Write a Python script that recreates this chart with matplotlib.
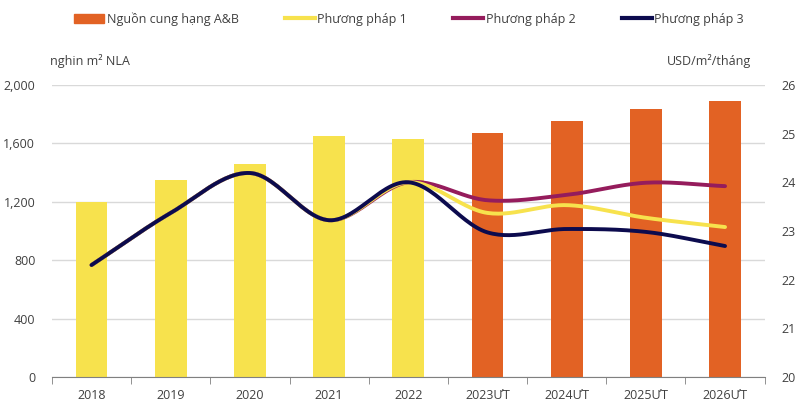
import numpy as np
import matplotlib.pyplot as plt
from matplotlib.ticker import FuncFormatter
from matplotlib.lines import Line2D
from matplotlib.patches import Patch

plt.rcParams['font.family'] = ['Open Sans', 'DejaVu Sans']

years = ['2018', '2019', '2020', '2021', '2022', '2023ƯT', '2024ƯT', '2025ƯT', '2026ƯT']
supply = [1200, 1350, 1460, 1650, 1630, 1670, 1750, 1835, 1890]
method1 = [22.30, 23.37, 24.19, 23.22, 24.00, 23.37, 23.53, 23.27, 23.08]
method2 = [22.30, 23.37, 24.19, 23.22, 24.00, 23.63, 23.74, 23.99, 23.92]
method3 = [22.30, 23.37, 24.19, 23.22, 24.00, 22.97, 23.04, 22.98, 22.69]

ORANGE = '#E26224'
YELLOW = '#F7E24D'
PURPLE = '#951C5C'
NAVY = '#0C0B4E'


def smooth(x, y, n=30):
    # Catmull-Rom style curve through the points (like Excel smoothed lines)
    x = np.asarray(x, float)
    y = np.asarray(y, float)
    px = np.concatenate([[2 * x[0] - x[1]], x, [2 * x[-1] - x[-2]]])
    py = np.concatenate([[2 * y[0] - y[1]], y, [2 * y[-1] - y[-2]]])
    xs, ys = [], []
    t = np.linspace(0, 1, n)
    for i in range(1, len(px) - 2):
        p0, p1, p2, p3 = [np.array([px[j], py[j]]) for j in range(i - 1, i + 3)]
        c1 = p1 + (p2 - p0) / 6
        c2 = p2 - (p3 - p1) / 6
        pts = ((1 - t)[:, None] ** 3 * p1 + 3 * ((1 - t) ** 2 * t)[:, None] * c1
               + 3 * ((1 - t) * t ** 2)[:, None] * c2 + (t ** 3)[:, None] * p2)
        xs.extend(pts[:, 0])
        ys.extend(pts[:, 1])
    return np.array(xs), np.array(ys)


fig = plt.figure(figsize=(7.99, 4.2), dpi=100)
ax = fig.add_axes([0.065, 0.1024, 0.892, 0.6955])
x = np.arange(len(years))

bar_colors = [YELLOW] * 5 + [ORANGE] * 4
ax.bar(x, supply, width=0.4, color=bar_colors, zorder=2)
ax.set_ylim(0, 2000)
ax.set_xlim(-0.5, len(years) - 0.5)
ax.set_yticks(range(0, 2001, 400))
ax.yaxis.set_major_formatter(FuncFormatter(lambda v, p: f'{int(v):,}'))
ax.grid(axis='y', color='#D9D9D9', linewidth=1, zorder=0)
ax.set_axisbelow(True)

for s in ['top', 'right', 'left']:
    ax.spines[s].set_visible(False)
ax.spines['bottom'].set_color('#808080')
ax.set_xticks(x)
ax.set_xticklabels(years)
ax.set_xticks(np.arange(-0.5, len(years)), minor=True)
ax.tick_params(axis='x', which='major', length=0, pad=9)
ax.tick_params(axis='x', which='minor', length=5, color='#808080')
ax.tick_params(axis='y', length=0, pad=12)
ax.tick_params(labelsize=9, labelcolor='#404040')

ax2 = ax.twinx()
ax2.set_ylim(20, 26)
ax2.set_yticks(range(20, 27))
for s in ax2.spines.values():
    s.set_visible(False)
ax2.tick_params(axis='y', length=0, pad=12, labelsize=9, labelcolor='#404040')

for vals, col in [(method2, PURPLE), (method1, YELLOW), (method3, NAVY)]:
    sx, sy = smooth(x, vals)
    ax2.plot(sx, sy, color=col, linewidth=2.8, solid_capstyle='round', zorder=3)

fig.text(0.063, 0.855, 'nghin m² NLA', fontsize=9, color='#404040', va='center')
fig.text(0.94, 0.855, 'USD/m²/tháng', fontsize=9, color='#404040', va='center', ha='right')

handles = [Patch(color=ORANGE),
           Line2D([], [], color=YELLOW, linewidth=3),
           Line2D([], [], color=PURPLE, linewidth=3),
           Line2D([], [], color=NAVY, linewidth=3)]
labels = ['Nguồn cung hạng A&B', 'Phương pháp 1', 'Phương pháp 2', 'Phương pháp 3']
fig.legend(handles, labels, loc='center', bbox_to_anchor=(0.512, 0.955), ncol=4,
           frameon=False, fontsize=9, handlelength=2.4, handletextpad=0.2,
           columnspacing=3.7, labelcolor='#404040')

fig.savefig('out.png', dpi=100)
